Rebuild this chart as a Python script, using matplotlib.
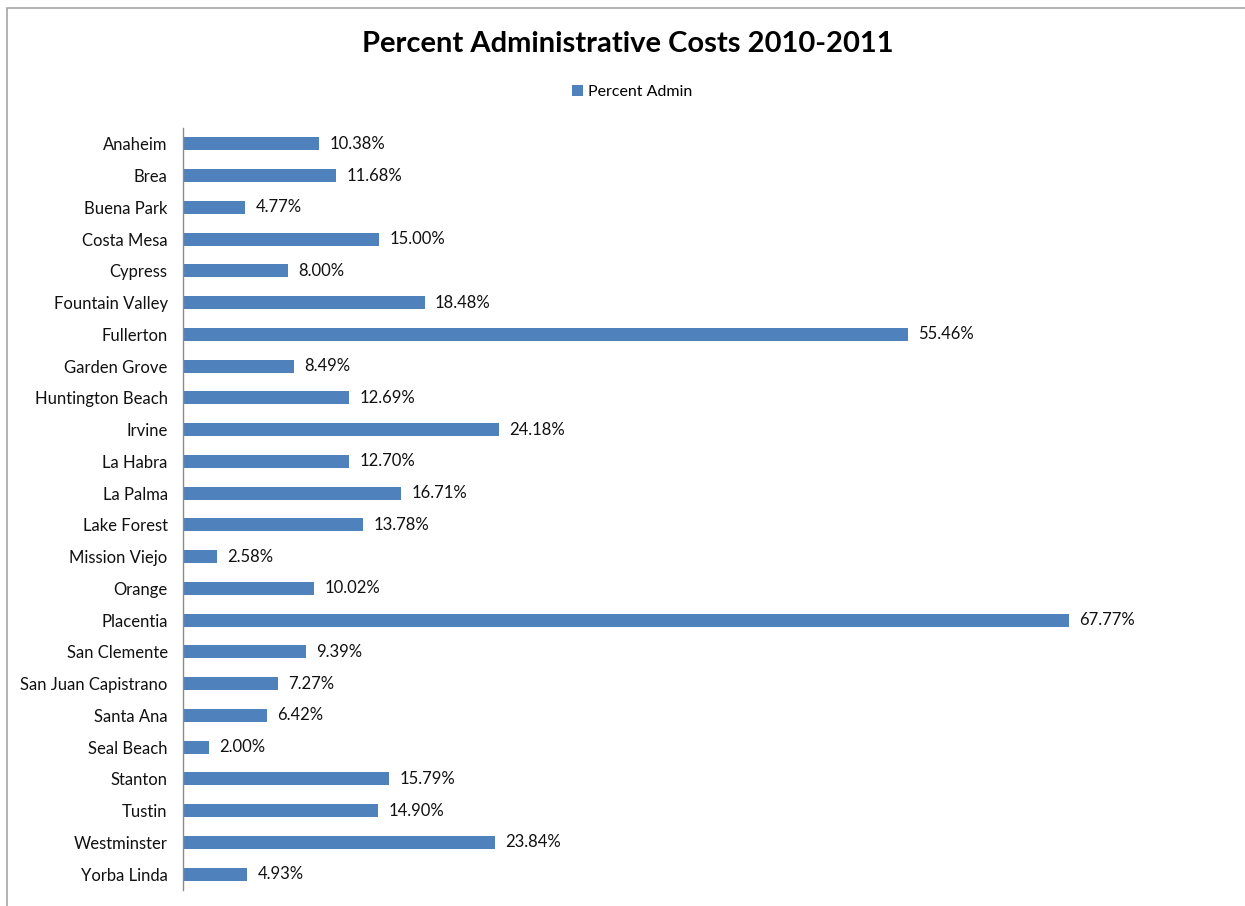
import matplotlib
matplotlib.use("Agg")
import matplotlib.pyplot as plt
from matplotlib.patches import Rectangle

cities = ["Anaheim", "Brea", "Buena Park", "Costa Mesa", "Cypress", "Fountain Valley",
          "Fullerton", "Garden Grove", "Huntington Beach", "Irvine", "La Habra",
          "La Palma", "Lake Forest", "Mission Viejo", "Orange", "Placentia",
          "San Clemente", "San Juan Capistrano", "Santa Ana", "Seal Beach",
          "Stanton", "Tustin", "Westminster", "Yorba Linda"]
percent_admin = [10.38, 11.68, 4.77, 15.00, 8.00, 18.48, 55.46, 8.49, 12.69, 24.18,
                 12.70, 16.71, 13.78, 2.58, 10.02, 67.77, 9.39, 7.27, 6.42, 2.00,
                 15.79, 14.90, 23.84, 4.93]

W, H = 1245, 906
fig = plt.figure(figsize=(W / 100, H / 100), dpi=100)
plt.rcParams["font.family"] = ["Lato", "DejaVu Sans"]

# chart frame
fig.patches.append(Rectangle((7 / W, -0.01), 1.02, (H - 8) / H + 0.01,
                             transform=fig.transFigure, fill=False,
                             edgecolor="#a6a6a6", linewidth=1.2))

left, right = 183, 1229
top, bottom = 128, 890
ax = fig.add_axes([left / W, 1 - bottom / H, (right - left) / W, (bottom - top) / H])

color = "#4F81BD"
ypos = list(range(len(cities)))
bars = ax.barh(ypos, percent_admin, height=0.41, color=color, label="Percent Admin")
ax.set_ylim(len(cities) - 0.5, -0.5)
ax.set_xlim(0, 80)
ax.set_yticks(ypos)
ax.set_yticklabels(cities, fontsize=12, color="#111111")
ax.tick_params(axis="y", length=0, pad=11)
ax.set_xticks([])
for s in ["top", "right", "bottom"]:
    ax.spines[s].set_visible(False)
ax.spines["left"].set_color("#8c8c8c")
ax.spines["left"].set_linewidth(1.0)

for y, v in zip(ypos, percent_admin):
    ax.text(v + 0.8, y, f"{v:.2f}%", va="center", ha="left", fontsize=12, color="#111111")

fig.text(628 / W, 1 - 44 / H, "Percent Administrative Costs 2010-2011",
         ha="center", va="center", fontsize=21, fontweight="bold", color="black")

leg = fig.legend(handles=[bars], labels=["Percent Admin"], loc="center",
                 bbox_to_anchor=(632 / W, 1 - 92 / H), frameon=False, fontsize=11.5,
                 handlelength=0.7, handleheight=0.7, handletextpad=0.3)

fig.savefig("out.png", dpi=100, facecolor="white")
